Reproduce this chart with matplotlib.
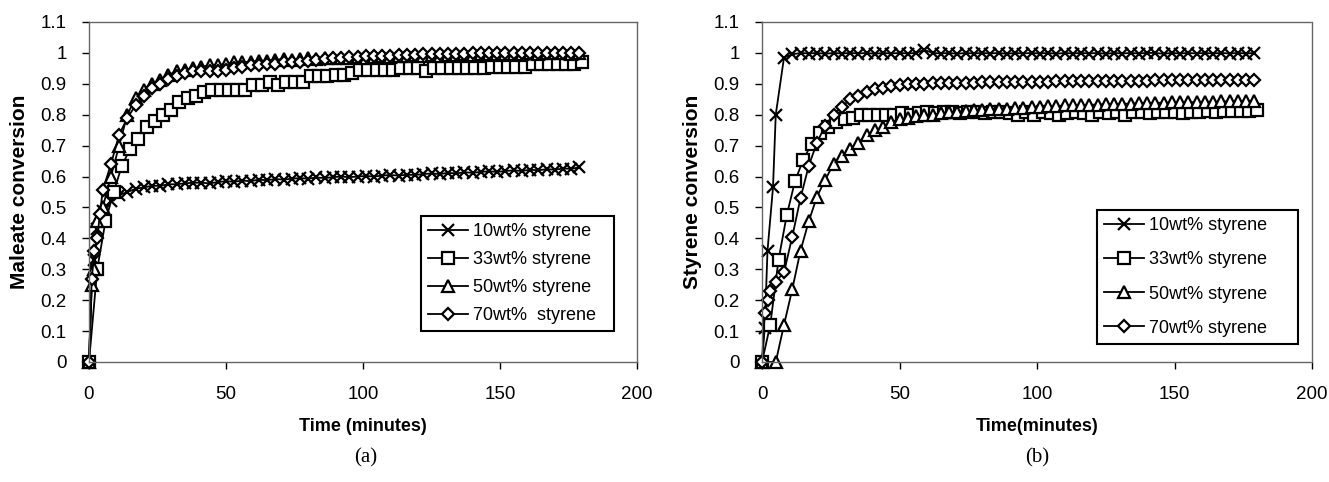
import matplotlib
matplotlib.use("Agg")
import matplotlib.pyplot as plt
from matplotlib.ticker import FormatStrFormatter, MultipleLocator

plt.rcParams['font.family'] = ['Liberation Sans', 'DejaVu Sans']

# sampling times (minutes)
t_step3 = [11, 14, 17, 20, 23, 26, 29, 32, 35, 38,
           41, 44, 47, 50, 53, 56, 59, 62, 65, 68,
           71, 74, 77, 80, 83, 86, 89, 92, 95, 98,
           101, 104, 107, 110, 113, 116, 119, 122, 125, 128,
           131, 134, 137, 140, 143, 146, 149, 152, 155, 158,
           161, 164, 167, 170, 173, 176, 179]
t_sq = [0, 3, 6, 9, 12, 15, 18, 21, 24, 27,
        30, 33, 36, 39, 42, 45, 48, 51, 54, 57,
        60, 63, 66, 69, 72, 75, 78, 81, 84, 87,
        90, 93, 96, 99, 102, 105, 108, 111, 114, 117,
        120, 123, 126, 129, 132, 135, 138, 141, 144, 147,
        150, 153, 156, 159, 162, 165, 168, 171, 174, 177,
        180]

# ---- (a) maleate conversion ----
ta_10 = [0, 1, 2, 3, 5, 8] + t_step3
ma_10 = [0, 0.25, 0.33, 0.43, 0.49, 0.52,
         0.54, 0.55, 0.56, 0.565, 0.57, 0.57, 0.575, 0.575, 0.578, 0.58,
         0.58, 0.578, 0.582, 0.585, 0.583, 0.587, 0.585, 0.59, 0.588, 0.592,
         0.59, 0.593, 0.595, 0.593, 0.597, 0.595, 0.598, 0.6, 0.598, 0.6,
         0.602, 0.6, 0.603, 0.605, 0.603, 0.606, 0.605, 0.608, 0.61, 0.608,
         0.612, 0.61, 0.614, 0.612, 0.615, 0.617, 0.615, 0.618, 0.62, 0.618,
         0.622, 0.62, 0.624, 0.622, 0.626, 0.625, 0.63]
ta_33 = t_sq
ma_33 = [0, 0.30, 0.455, 0.55, 0.635, 0.69, 0.72, 0.76, 0.78, 0.80,
         0.815, 0.84, 0.855, 0.86, 0.875, 0.88, 0.88, 0.88, 0.88, 0.88,
         0.897, 0.897, 0.907, 0.897, 0.907, 0.907, 0.907, 0.925, 0.925, 0.925,
         0.93, 0.93, 0.935, 0.945, 0.945, 0.945, 0.945, 0.945, 0.95, 0.95,
         0.95, 0.94, 0.95, 0.95, 0.95, 0.95, 0.95, 0.95, 0.95, 0.955,
         0.955, 0.955, 0.955, 0.955, 0.965, 0.965, 0.965, 0.965, 0.965, 0.965,
         0.97]
ta_50 = [0, 1, 2, 3, 5, 8] + t_step3
ma_50 = [0, 0.25, 0.30, 0.455, 0.50, 0.60,
         0.70, 0.80, 0.855, 0.88, 0.90, 0.913, 0.93, 0.94, 0.945, 0.95,
         0.955, 0.96, 0.96, 0.965, 0.97, 0.97, 0.972, 0.975, 0.975, 0.978,
         0.98, 0.978, 0.98, 0.982, 0.98, 0.983, 0.985, 0.983, 0.985, 0.987,
         0.985, 0.988, 0.99, 0.988, 0.99, 0.99, 0.992, 0.99, 0.992, 0.99,
         0.993, 0.992, 0.995, 0.993, 0.995, 0.997, 0.995, 0.998, 0.996, 0.998,
         1.0, 0.998, 1.0, 1.0, 1.0, 0.998, 1.0]
ta_70 = [0, 1, 2, 3, 4, 5, 8] + t_step3
ma_70 = [0, 0.27, 0.36, 0.40, 0.48, 0.555, 0.64,
         0.735, 0.79, 0.83, 0.86, 0.885, 0.90, 0.915, 0.925, 0.935, 0.94,
         0.94, 0.94, 0.942, 0.945, 0.95, 0.955, 0.96, 0.96, 0.965, 0.965,
         0.97, 0.97, 0.972, 0.975, 0.977, 0.98, 0.983, 0.985, 0.987, 0.988,
         0.99, 0.99, 0.99, 0.99, 0.992, 0.992, 0.993, 0.995, 0.995, 0.996,
         0.997, 0.998, 0.998, 1.0, 1.0, 1.0, 1.0, 1.0, 1.0, 1.0,
         1.0, 1.0, 1.0, 1.0, 1.0, 1.0, 1.0]

# ---- (b) styrene conversion ----
tb_10 = [0, 1, 2, 4, 5, 8] + t_step3
sb_10 = [0, 0.11, 0.36, 0.565, 0.80, 0.985,
         0.995, 1.0, 0.998, 1.0, 0.997, 1.0, 0.998, 1.0, 0.998, 1.0,
         0.997, 1.0, 0.998, 1.0, 0.998, 1.0, 1.01, 1.0, 0.998, 1.0,
         0.997, 1.0, 0.998, 1.0, 0.998, 1.0, 0.997, 1.0, 0.998, 1.0,
         0.998, 1.0, 0.997, 1.0, 0.998, 1.0, 0.998, 1.0, 0.997, 1.0,
         0.998, 1.0, 0.998, 1.0, 1.0, 0.997, 1.0, 0.998, 1.0, 0.998,
         1.0, 0.998, 1.0, 0.998, 1.0, 0.998, 1.0]
tb_33 = t_sq
sb_33 = [0, 0.12, 0.33, 0.475, 0.585, 0.655, 0.705, 0.74, 0.76, 0.775,
         0.785, 0.79, 0.80, 0.80, 0.80, 0.80, 0.80, 0.805, 0.80, 0.805,
         0.81, 0.805, 0.81, 0.81, 0.805, 0.81, 0.81, 0.805, 0.81, 0.81,
         0.805, 0.80, 0.81, 0.80, 0.81, 0.805, 0.80, 0.805, 0.81, 0.805,
         0.80, 0.81, 0.805, 0.81, 0.80, 0.81, 0.81, 0.805, 0.81, 0.81,
         0.81, 0.805, 0.81, 0.81, 0.812, 0.81, 0.812, 0.812, 0.812, 0.812,
         0.815]
tb_50 = [0, 5, 8] + t_step3
sb_50 = [0, 0, 0.12,
         0.235, 0.36, 0.455, 0.535, 0.59, 0.64, 0.665, 0.69, 0.71, 0.735,
         0.75, 0.76, 0.775, 0.785, 0.79, 0.795, 0.80, 0.80, 0.805, 0.808,
         0.81, 0.812, 0.815, 0.815, 0.818, 0.82, 0.82, 0.822, 0.823, 0.825,
         0.825, 0.827, 0.828, 0.83, 0.83, 0.831, 0.832, 0.833, 0.834, 0.835,
         0.835, 0.836, 0.837, 0.838, 0.838, 0.839, 0.84, 0.84, 0.84, 0.841,
         0.842, 0.842, 0.843, 0.843, 0.844, 0.844, 0.845]
tb_70 = [0, 1, 2, 3, 5, 8] + t_step3
sb_70 = [0, 0.16, 0.20, 0.23, 0.26, 0.29,
         0.405, 0.53, 0.635, 0.71, 0.765, 0.80, 0.825, 0.85, 0.86, 0.872,
         0.882, 0.888, 0.893, 0.897, 0.898, 0.90, 0.90, 0.902, 0.902, 0.903,
         0.903, 0.904, 0.904, 0.905, 0.905, 0.905, 0.906, 0.906, 0.906, 0.907,
         0.907, 0.907, 0.908, 0.908, 0.908, 0.909, 0.909, 0.909, 0.91, 0.91,
         0.91, 0.91, 0.91, 0.91, 0.911, 0.911, 0.911, 0.911, 0.912, 0.912,
         0.912, 0.912, 0.912, 0.912, 0.912, 0.912, 0.912]

labels_a = ['10wt% styrene', '33wt% styrene', '50wt% styrene', '70wt%  styrene']
labels_b = ['10wt% styrene', '33wt% styrene', '50wt% styrene', '70wt% styrene']
markers = ['x', 's', '^', 'D']
msizes = [8.5, 8, 8, 6.5]

fig = plt.figure(figsize=(13.29, 4.82), dpi=100)
ax1 = fig.add_axes([89 / 1329, 120 / 482, 548 / 1329, 340 / 482])
ax2 = fig.add_axes([762 / 1329, 120 / 482, 550 / 1329, 340 / 482])

panels = [
    (ax1, [(ta_10, ma_10), (ta_33, ma_33), (ta_50, ma_50), (ta_70, ma_70)],
     labels_a, 'Maleate conversion', 'Time (minutes)', (0.606, 0.091, 0.352, 0.347), 0.6),
    (ax2, [(tb_10, sb_10), (tb_33, sb_33), (tb_50, sb_50), (tb_70, sb_70)],
     labels_b, 'Styrene conversion', 'Time(minutes)', (0.609, 0.053, 0.366, 0.403), 0.95),
]

for ax, series, labels, ylab, xlab, bbox, lspace in panels:
    for (t, v), lab, mk, ms in zip(series, labels, markers, msizes):
        ax.plot(t, v, color='black', lw=1.3, marker=mk, ms=ms, mfc='white',
                mec='black', mew=1.6, label=lab, clip_on=False)
    ax.set_xlim(0, 200)
    ax.set_ylim(0, 1.1)
    ax.xaxis.set_major_locator(MultipleLocator(50))
    ax.yaxis.set_major_locator(MultipleLocator(0.1))
    ax.yaxis.set_major_formatter(FormatStrFormatter('%g'))
    ax.tick_params(direction='out', length=5, width=1, labelsize=13.5)
    ax.tick_params(axis='y', pad=11)
    ax.tick_params(axis='x', pad=12)
    for sp in ax.spines.values():
        sp.set_linestyle((0, (1, 1)))
        sp.set_color('#666666')
        sp.set_linewidth(1)
    ax.set_ylabel(ylab, fontsize=15, fontweight='bold', labelpad=8)
    ax.set_xlabel(xlab, fontsize=13, fontweight='bold', labelpad=11)
    leg = ax.legend(loc='lower left', bbox_to_anchor=bbox, mode='expand',
                    borderaxespad=0, fontsize=13, frameon=True, fancybox=False,
                    edgecolor='black', framealpha=1, handlelength=2.2,
                    handletextpad=0.3, labelspacing=lspace, borderpad=0.4)
    leg.get_frame().set_linewidth(1.5)

fig.text(366 / 1329, 1 - 458 / 482, '(a)', ha='center', va='center',
         fontsize=15, family='Liberation Serif')
fig.text(1037 / 1329, 1 - 458 / 482, '(b)', ha='center', va='center',
         fontsize=15, family='Liberation Serif')

fig.savefig('out.png', dpi=100)
